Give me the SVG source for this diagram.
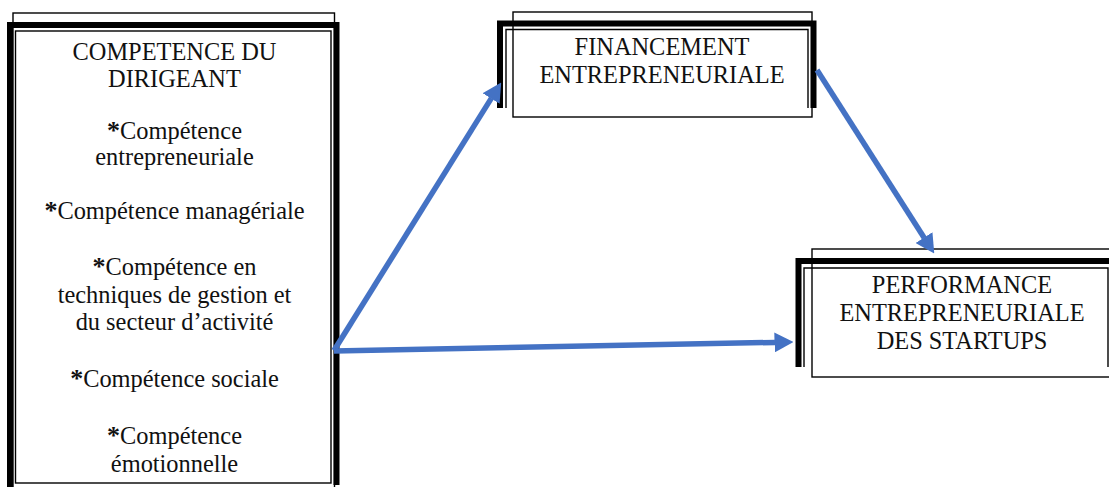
<svg xmlns="http://www.w3.org/2000/svg" width="1109" height="487" viewBox="0 0 1109 487">
<style>
  .thin { fill: none; stroke: #000; stroke-width: 1.4; }
  .thick { fill: none; stroke: #000; stroke-width: 6; }
  .lbl { font-family: 'Liberation Serif', 'Times New Roman', Times, 'DejaVu Serif', serif; font-size: 24.4px; fill: #111; text-anchor: middle; }
  .star { font-weight: bold; font-size: 26px; }
  .conn { fill: none; stroke: #4472C4; stroke-width: 5.5; stroke-linecap: butt; marker-end: url(#ah); }
</style>
<defs>
  <marker id="ah" viewBox="0 0 19 20" refX="0.5" refY="10" markerWidth="19" markerHeight="20" markerUnits="userSpaceOnUse" orient="auto">
    <path d="M0,0 L19,10 L0,20 z" fill="#4472C4"/>
  </marker>
</defs>
<rect width="1109" height="487" fill="#fff"/>

<g id="node-competence" font-family="'Liberation Serif', serif">
  <rect class="thin" x="13" y="13" width="321.5" height="490"/>
  <path class="thick" d="M10,487 V25 H336.5 V485"/>
  <rect class="thin" x="15.5" y="31" width="315.5" height="452" fill="#fff"/>
  <text class="lbl" x="174.5" y="60">COMPETENCE DU</text>
  <text class="lbl" x="174.5" y="87">DIRIGEANT</text>
  <text class="lbl" x="174.5" y="139"><tspan class="star">*</tspan>Compétence</text>
  <text class="lbl" x="174.5" y="165">entrepreneuriale</text>
  <text class="lbl" x="174.5" y="219"><tspan class="star">*</tspan>Compétence managériale</text>
  <text class="lbl" x="174.5" y="275"><tspan class="star">*</tspan>Compétence en</text>
  <text class="lbl" x="174.5" y="303">techniques de gestion et</text>
  <text class="lbl" x="174.5" y="330">du secteur d’activité</text>
  <text class="lbl" x="174.5" y="387"><tspan class="star">*</tspan>Compétence sociale</text>
  <text class="lbl" x="174.5" y="444"><tspan class="star">*</tspan>Compétence</text>
  <text class="lbl" x="174.5" y="472">émotionnelle</text>
</g>

<g id="node-financement">
  <rect class="thin" x="513" y="12" width="299" height="105"/>
  <path class="thick" d="M500,108 V23.5 H813.5 V108"/>
  <path class="thin" d="M506,108 V29.5 H808 V108"/>
  <text class="lbl" x="662" y="55">FINANCEMENT</text>
  <text class="lbl" x="662" y="83">ENTREPRENEURIALE</text>
</g>

<g id="node-performance">
  <rect class="thin" x="812" y="249" width="310" height="128"/>
  <path class="thick" d="M798.5,367 V261 H1115"/>
  <path class="thin" d="M804,367 V268 H1108 V367"/>
  <text class="lbl" x="962" y="293">PERFORMANCE</text>
  <text class="lbl" x="962" y="321">ENTREPRENEURIALE</text>
  <text class="lbl" x="962" y="349">DES STARTUPS</text>
</g>

<g id="connectors">
  <path class="conn" d="M334,350.5 L491.4,98.1"/>
  <path class="conn" d="M334,351 L775,342.4"/>
  <path class="conn" d="M817,70 L924.3,238"/>
</g>
</svg>
